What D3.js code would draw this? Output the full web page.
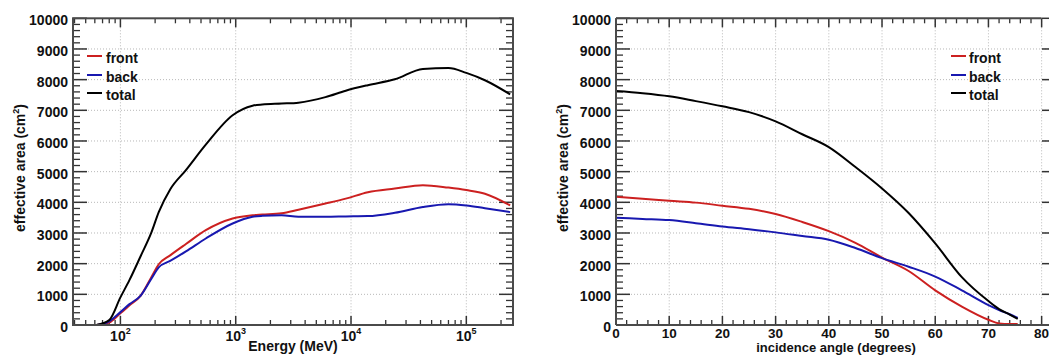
<!DOCTYPE html>
<html>
<head>
<meta charset="utf-8">
<script src="https://cdn.jsdelivr.net/npm/d3@7"></script>
<style>
  html, body { margin: 0; padding: 0; background: #fff; }
  svg { display: block; font-family: "Liberation Sans", Arial, Helvetica, sans-serif; }
</style>
</head>
<body>
<svg id="chart" width="1049" height="355"></svg>
<script>
// ---------- data ----------
const energy = [62, 80, 100, 120, 150, 185, 215, 270, 370, 550, 940, 1400, 1700, 2500, 3500, 6000, 9000, 14000, 24000, 42000, 70000, 100000, 145000, 240000];
const frontVsEnergy = [0, 80, 380, 640, 960, 1550, 1980, 2270, 2640, 3090, 3470, 3580, 3600, 3640, 3760, 3960, 4120, 4330, 4450, 4560, 4480, 4400, 4280, 3900];
const backVsEnergy  = [0, 120, 420, 680, 960, 1500, 1880, 2090, 2400, 2820, 3310, 3530, 3560, 3580, 3530, 3530, 3540, 3550, 3660, 3850, 3940, 3900, 3810, 3680];
const totalVsEnergy = [0, 160, 900, 1470, 2250, 3000, 3680, 4420, 5050, 5880, 6840, 7150, 7190, 7220, 7250, 7430, 7640, 7820, 8010, 8350, 8380, 8220, 7980, 7520];

const angle = [0, 5, 10, 15, 20, 25, 30, 35, 40, 45, 50, 55, 60, 65, 70, 72, 74, 75.5];
const frontVsAngle = [4180, 4120, 4050, 3990, 3890, 3790, 3620, 3360, 3060, 2680, 2200, 1760, 1130, 600, 170, 50, 30, 30];
const backVsAngle  = [3500, 3460, 3420, 3320, 3210, 3120, 3020, 2900, 2780, 2510, 2180, 1900, 1580, 1130, 650, 490, 350, 230];
const totalVsAngle = [7630, 7560, 7460, 7300, 7130, 6940, 6640, 6220, 5800, 5150, 4450, 3650, 2660, 1560, 780, 520, 340, 200];

const seriesNames = ["front", "back", "total"];
const seriesColors = ["#cc2020", "#1818b0", "#000000"];
const yTicks = [0, 1000, 2000, 3000, 4000, 5000, 6000, 7000, 8000, 9000, 10000];
const energyTicks = [100, 1000, 10000, 100000];
const angleTicks = [0, 10, 20, 30, 40, 50, 60, 70, 80];

// ---------- layout ----------
const svg = d3.select("#chart");
const yTop = 18.3, yBottom = 325;
const frameColor = "#4a4a4a";

const yScaleL = d3.scaleLinear().domain([0, 10000]).range([yBottom, yTop]);

function drawYAxis(g, y, x0, x1, titleX) {
  g.selectAll(null).data(yTicks.filter(v => v > 0 && v < 10000)).enter().append("line")
    .attr("x1", x0).attr("x2", x1).attr("y1", d => y(d)).attr("y2", d => y(d))
    .attr("stroke", "#b8b8b8").attr("stroke-width", 1).attr("stroke-dasharray", "1,2");
  const minors = d3.range(0, 10001, 200).filter(v => v % 1000 !== 0);
  [x0, x1].forEach((xe, i) => {
    const dir = i === 0 ? 1 : -1;
    g.selectAll(null).data(minors).enter().append("line")
      .attr("x1", xe).attr("x2", xe + dir * 7).attr("y1", d => y(d)).attr("y2", d => y(d))
      .attr("stroke", "#333").attr("stroke-width", 1.3);
    g.selectAll(null).data(yTicks).enter().append("line")
      .attr("x1", xe).attr("x2", xe + dir * 14).attr("y1", d => y(d)).attr("y2", d => y(d))
      .attr("stroke", "#333").attr("stroke-width", 1.5);
  });
  g.selectAll(null).data(yTicks).enter().append("text")
    .attr("x", x0 - 5).attr("y", d => y(d) + 7)
    .attr("text-anchor", "end").attr("font-size", 14).attr("font-weight", "bold").attr("fill", "#111")
    .text(d => d);
  const t = g.append("text")
    .attr("transform", `translate(${titleX},168) rotate(-90)`)
    .attr("text-anchor", "middle").attr("font-size", 14).attr("font-weight", "bold").attr("fill", "#111");
  t.append("tspan").text("effective area (cm");
  t.append("tspan").attr("font-size", 9).attr("dy", -6).text("2");
  t.append("tspan").attr("dy", 6).text(")");
}

function drawLegend(g, lx, tx) {
  const ys = [56, 75, 93];
  seriesNames.forEach((name, i) => {
    g.append("line").attr("x1", lx).attr("x2", lx + 15).attr("y1", ys[i]).attr("y2", ys[i])
      .attr("stroke", seriesColors[i]).attr("stroke-width", 2);
    g.append("text").attr("x", tx).attr("y", ys[i] + 6.5)
      .attr("font-size", 14).attr("font-weight", "bold").attr("fill", "#111").text(name);
  });
}

// ---------- left panel ----------
{
  const g = svg.append("g");
  const x0 = 73, x1 = 513;
  const x = d3.scaleLog().domain([38.8, 254000]).range([x0, x1]);
  const y = yScaleL;

  g.selectAll(null).data(energyTicks).enter().append("line")
    .attr("x1", d => x(d)).attr("x2", d => x(d)).attr("y1", yTop).attr("y2", yBottom)
    .attr("stroke", "#b8b8b8").attr("stroke-width", 1).attr("stroke-dasharray", "1,2");

  drawYAxis(g, y, x0, x1, 25);

  const minors = [];
  [10, 100, 1000, 10000, 100000].forEach(dec => {
    for (let k = 2; k <= 9; k++) {
      const v = k * dec;
      if (v > 38.8 && v < 254000) minors.push(v);
    }
  });
  [[yBottom, -1], [yTop, 1]].forEach(([ye, dir]) => {
    g.selectAll(null).data(minors).enter().append("line")
      .attr("x1", d => x(d)).attr("x2", d => x(d)).attr("y1", ye).attr("y2", ye + dir * 5)
      .attr("stroke", "#333").attr("stroke-width", 1.3);
    g.selectAll(null).data(energyTicks).enter().append("line")
      .attr("x1", d => x(d)).attr("x2", d => x(d)).attr("y1", ye).attr("y2", ye + dir * 9)
      .attr("stroke", "#333").attr("stroke-width", 1.5);
  });
  energyTicks.forEach(v => {
    const t = g.append("text").attr("x", x(v)).attr("y", 341)
      .attr("text-anchor", "middle").attr("font-size", 14).attr("font-weight", "bold").attr("fill", "#111");
    t.append("tspan").text("10");
    t.append("tspan").attr("font-size", 9).attr("dy", -7).text(Math.round(Math.log10(v)));
  });
  g.append("text").attr("x", (x0 + x1) / 2).attr("y", 351)
    .attr("text-anchor", "middle").attr("font-size", 14).attr("font-weight", "bold").attr("fill", "#111")
    .text("Energy (MeV)");

  const vals = [frontVsEnergy, backVsEnergy, totalVsEnergy];
  const line = d3.line().x(d => x(d[0])).y(d => y(d[1])).curve(d3.curveMonotoneX);
  vals.forEach((arr, i) => {
    g.append("path").datum(energy.map((e, j) => [e, arr[j]]))
      .attr("d", line).attr("fill", "none").attr("stroke", seriesColors[i]).attr("stroke-width", 2);
  });

  g.append("rect").attr("x", x0).attr("y", yTop).attr("width", x1 - x0).attr("height", yBottom - yTop)
    .attr("fill", "none").attr("stroke", frameColor).attr("stroke-width", 2);

  drawLegend(g, 87, 106);
}

// ---------- right panel ----------
{
  const g = svg.append("g");
  const x0 = 616, x1 = 1056;
  const x = d3.scaleLinear().domain([0, 82.7]).range([x0, x1]);
  const y = yScaleL;

  g.selectAll(null).data(angleTicks.filter(v => v > 0)).enter().append("line")
    .attr("x1", d => x(d)).attr("x2", d => x(d)).attr("y1", yTop).attr("y2", yBottom)
    .attr("stroke", "#b8b8b8").attr("stroke-width", 1).attr("stroke-dasharray", "1,2");

  drawYAxis(g, y, x0, x1, 568);

  const minors = d3.range(0, 82, 2).filter(v => v % 10 !== 0);
  [[yBottom, -1], [yTop, 1]].forEach(([ye, dir]) => {
    g.selectAll(null).data(minors).enter().append("line")
      .attr("x1", d => x(d)).attr("x2", d => x(d)).attr("y1", ye).attr("y2", ye + dir * 5)
      .attr("stroke", "#333").attr("stroke-width", 1.3);
    g.selectAll(null).data(angleTicks).enter().append("line")
      .attr("x1", d => x(d)).attr("x2", d => x(d)).attr("y1", ye).attr("y2", ye + dir * 9)
      .attr("stroke", "#333").attr("stroke-width", 1.5);
  });
  g.selectAll(null).data(angleTicks).enter().append("text")
    .attr("x", d => x(d)).attr("y", 337.5)
    .attr("text-anchor", "middle").attr("font-size", 13.5).attr("font-weight", "bold").attr("fill", "#111")
    .text(d => d);
  g.append("text").attr("x", (x0 + x1) / 2).attr("y", 352.2)
    .attr("text-anchor", "middle").attr("font-size", 13).attr("font-weight", "bold").attr("fill", "#111")
    .text("incidence angle (degrees)");

  const vals = [frontVsAngle, backVsAngle, totalVsAngle];
  const line = d3.line().x(d => x(d[0])).y(d => y(d[1])).curve(d3.curveMonotoneX);
  vals.forEach((arr, i) => {
    g.append("path").datum(angle.map((a, j) => [a, arr[j]]))
      .attr("d", line).attr("fill", "none").attr("stroke", seriesColors[i]).attr("stroke-width", 2);
  });

  g.append("line").attr("x1", x0).attr("x2", x(80)).attr("y1", yTop).attr("y2", yTop)
    .attr("stroke", frameColor).attr("stroke-width", 2);
  g.append("line").attr("x1", x0).attr("x2", x1).attr("y1", yBottom).attr("y2", yBottom)
    .attr("stroke", frameColor).attr("stroke-width", 2);
  g.append("line").attr("x1", x0).attr("x2", x0).attr("y1", yTop).attr("y2", yBottom)
    .attr("stroke", frameColor).attr("stroke-width", 2);

  drawLegend(g, 951, 969);
}
</script>
</body>
</html>
